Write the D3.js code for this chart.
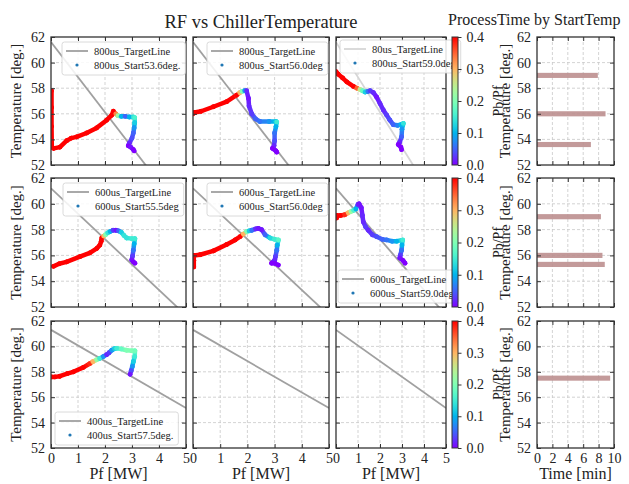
<!DOCTYPE html>
<html>
<head>
<meta charset="utf-8">
<script src="https://cdn.jsdelivr.net/npm/d3@7"></script>
<style>
  body { margin: 0; background: #fff; }
  text { font-family: "Liberation Serif", "DejaVu Serif", serif; fill: #222; }
</style>
</head>
<body>
<svg id="chart" width="629" height="484"></svg>
<script>
// ---- data ----
var pfTicks = [0, 1, 2, 3, 4, 5];
var tempTicks = [52, 54, 56, 58, 60, 62];
var timeTicks = [0, 2, 4, 6, 8, 10];
var ratioTicks = [0, 0.1, 0.2, 0.3, 0.4];

// target lines [Pf, Temp] end points
var target800 = [[0, 61.6], [5, 47.9]];
var target600 = [[0, 61.2], [5, 51.35]];
var target400 = [[0, 61.3], [5, 55.15]];

// trajectories [Pf, Temp, Pb/Pf]
var run800_536 = [[0.02,57.8,0.4],[0.02,56.5,0.4],[0.02,55.0,0.4],[0.03,53.4,0.4],[0.1,53.3,0.4],[0.33,53.4,0.4],[0.58,53.9,0.4],[0.75,54.1,0.4],[0.95,54.2,0.4],[1.32,54.5,0.4],[1.69,54.9,0.4],[2.06,55.5,0.4],[2.25,55.9,0.4],[2.31,56.2,0.4],[2.4,56.0,0.33],[2.48,55.85,0.22],[2.6,55.8,0.1],[2.75,55.8,0.05],[2.9,55.75,0.1],[3.05,55.75,0.14],[3.1,55.7,0.16],[3.1,55.3,0.12],[3.08,54.9,0.08],[3.05,54.5,0.05],[3.0,54.1,0.04],[2.9,53.7,0.02],[2.86,53.5,0.0],[2.95,53.4,0.01],[3.05,53.2,0.0],[3.08,53.1,0.0]];
var run800_560 = [[0.0,56.0,0.4],[0.05,56.1,0.4],[0.3,56.2,0.4],[0.75,56.55,0.4],[1.24,56.95,0.4],[1.6,57.45,0.4],[1.72,57.65,0.3],[1.8,57.75,0.2],[1.9,57.8,0.08],[1.97,57.8,0.02],[2.04,57.2,0.01],[2.06,56.6,0.02],[2.16,56.0,0.03],[2.3,55.6,0.05],[2.46,55.4,0.06],[2.8,55.4,0.08],[3.05,55.4,0.12],[3.08,55.35,0.15],[3.05,55.0,0.1],[3.0,54.5,0.06],[3.0,53.9,0.04],[2.98,53.5,0.02],[2.92,53.3,0.0],[3.05,53.1,0.0],[3.08,53.0,0.0]];
var run800_590 = [[0.0,59.3,0.4],[0.1,59.1,0.4],[0.3,58.8,0.4],[0.49,58.5,0.4],[0.79,58.15,0.4],[0.95,58.0,0.35],[1.09,57.9,0.25],[1.2,57.8,0.18],[1.32,57.7,0.12],[1.45,57.75,0.06],[1.55,57.8,0.03],[1.7,57.65,0.02],[1.85,57.3,0.01],[2.0,56.8,0.02],[2.15,56.3,0.02],[2.3,55.9,0.03],[2.45,55.5,0.04],[2.6,55.15,0.05],[2.8,55.1,0.07],[2.95,55.15,0.1],[3.06,55.25,0.14],[3.0,54.8,0.08],[2.98,54.2,0.05],[2.9,53.8,0.02],[2.83,53.6,0.0],[2.95,53.4,0.0],[2.98,53.2,0.0]];
var run600_555 = [[0.09,55.15,0.4],[0.3,55.35,0.4],[0.58,55.5,0.4],[1.07,55.9,0.4],[1.44,56.2,0.4],[1.7,56.55,0.4],[1.81,56.8,0.4],[1.86,57.1,0.4],[1.88,57.35,0.4],[1.95,57.5,0.3],[2.02,57.6,0.2],[2.1,57.75,0.14],[2.19,57.85,0.1],[2.3,57.95,0.03],[2.4,57.95,0.01],[2.5,57.9,0.05],[2.6,57.8,0.12],[2.7,57.55,0.14],[2.8,57.35,0.14],[3.0,57.3,0.15],[3.11,57.3,0.15],[3.08,56.9,0.1],[3.05,56.4,0.06],[3.02,55.95,0.03],[2.99,55.65,0.01],[3.05,55.5,0.0],[3.11,55.4,0.0]];
var run600_560 = [[0.03,55.1,0.4],[0.03,55.6,0.4],[0.03,56.0,0.4],[0.26,56.05,0.4],[0.75,56.35,0.4],[1.24,56.85,0.4],[1.55,57.2,0.4],[1.73,57.45,0.4],[1.85,57.65,0.3],[1.97,57.85,0.2],[2.06,57.9,0.12],[2.16,57.95,0.06],[2.3,58.05,0.02],[2.4,58.1,0.01],[2.52,58.0,0.01],[2.65,57.6,0.05],[2.83,57.35,0.13],[3.0,57.25,0.15],[3.14,57.2,0.17],[3.1,56.8,0.1],[3.08,56.4,0.06],[3.03,55.9,0.03],[3.01,55.65,0.02],[2.89,55.4,0.0],[3.0,55.4,0.0],[3.14,55.25,0.0]];
var run600_590 = [[0.03,58.9,0.4],[0.03,59.1,0.4],[0.2,59.1,0.4],[0.4,59.15,0.38],[0.55,59.3,0.3],[0.68,59.4,0.22],[0.8,59.5,0.16],[0.9,59.6,0.1],[1.0,59.95,0.02],[1.05,60.0,0.01],[1.15,59.7,0.01],[1.2,59.1,0.02],[1.24,58.6,0.02],[1.35,58.2,0.03],[1.47,57.95,0.02],[1.65,57.6,0.03],[1.85,57.45,0.04],[2.1,57.25,0.05],[2.3,57.2,0.06],[2.55,57.1,0.08],[2.76,57.1,0.1],[3.03,57.2,0.15],[3.0,56.8,0.1],[2.98,56.4,0.06],[2.92,56.0,0.03],[2.9,55.8,0.01],[3.05,55.6,0.0],[3.14,55.4,0.0]];
var run400_575 = [[0.02,57.6,0.4],[0.15,57.6,0.4],[0.33,57.65,0.4],[0.6,57.85,0.4],[0.83,58.0,0.4],[1.2,58.35,0.4],[1.44,58.65,0.38],[1.55,58.8,0.3],[1.69,58.95,0.22],[1.8,59.05,0.15],[1.94,59.2,0.08],[2.06,59.35,0.02],[2.15,59.5,0.03],[2.25,59.7,0.08],[2.35,59.82,0.12],[2.43,59.85,0.15],[2.6,59.8,0.18],[2.8,59.7,0.2],[3.0,59.65,0.2],[3.11,59.65,0.19],[3.1,59.2,0.15],[3.05,58.8,0.12],[3.01,58.4,0.08],[2.97,58.1,0.04],[2.93,57.8,0.01]];

var legend800 = [['800us_TargetLine', '800us_Start53.6deg.'], ['800us_TargetLine', '800us_Start56.0deg'], ['80us_TargetLine', '800us_Start59.0deg']];
var legend600 = [['600us_TargetLine', '600us_Start55.5deg'], ['600us_TargetLine', '600us_Start56.0deg'], ['600us_TargetLine', '600us_Start59.0deg']];
var legend400 = [['400us_TargetLine', '400us_Start57.5deg.'], null, null];

// process time bars
var startTemps800 = [59.0, 56.0, 53.6], procTime800 = [7.9, 8.9, 7.0];
var startTemps600 = [59.0, 56.0, 55.3], procTime600 = [8.3, 8.5, 8.8];
var startTemps400 = [57.5], procTime400 = [9.5];

// ---- layout ----
var cols = [[51, 186], [193, 329], [336, 446]];
var rowsY = [[37, 165], [178, 307], [321, 448]];
var barCol = [537, 614];
var cbarX = [452, 458];
var legendPos = [[[11, 5], [14, 5], [4, 3]], [[12, 5], [14, 5], [2, 92]], [[4, 91], null, null]];

var rows = [
  { target: target800, runs: [run800_536, run800_560, run800_590], legend: legend800, temps: startTemps800, times: procTime800 },
  { target: target600, runs: [run600_555, run600_560, run600_590], legend: legend600, temps: startTemps600, times: procTime600 },
  { target: target400, runs: [run400_575, null, null], legend: legend400, temps: startTemps400, times: procTime400 }
];

var svg = d3.select('#chart');
var defs = svg.append('defs');

// matplotlib 'rainbow'
function rainbow(t) {
  t = Math.max(0, Math.min(1, t));
  var r = Math.min(1, Math.abs(2 * t - 0.5)), g = Math.sin(Math.PI * t), b = Math.cos(Math.PI * t / 2);
  return d3.rgb(r * 255, g * 255, b * 255).toString();
}
var ratioColor = function (v) { return rainbow(v / 0.4); };

var grad = defs.append('linearGradient').attr('id', 'cbar')
  .attr('x1', 0).attr('y1', 1).attr('x2', 0).attr('y2', 0);
d3.range(0, 1.0001, 0.05).forEach(function (t) {
  grad.append('stop').attr('offset', t).attr('stop-color', rainbow(t));
});

function frameAxes(g, x, y, showX, showY, fmtX) {
  var tk = 4;
  var bottom = g.append('g').attr('transform', 'translate(0,' + y.range()[0] + ')')
    .call(d3.axisBottom(x).tickValues(x === null ? [] : x.__ticks).tickSizeInner(-tk).tickSizeOuter(0).tickPadding(5)
      .tickFormat(showX ? fmtX : ''));
  g.append('g').attr('transform', 'translate(0,' + y.range()[1] + ')')
    .call(d3.axisTop(x).tickValues(x.__ticks).tickSizeInner(-tk).tickSizeOuter(0).tickFormat(''));
  var left = g.append('g').attr('transform', 'translate(' + x.range()[0] + ',0)')
    .call(d3.axisLeft(y).tickValues(tempTicks).tickSizeInner(-tk).tickSizeOuter(0).tickPadding(6)
      .tickFormat(showY ? d3.format('d') : ''));
  g.append('g').attr('transform', 'translate(' + x.range()[1] + ',0)')
    .call(d3.axisRight(y).tickValues(tempTicks).tickSizeInner(-tk).tickSizeOuter(0).tickFormat(''));
  g.selectAll('.domain').remove();
  g.selectAll('.tick line').attr('stroke', '#333');
  g.selectAll('.tick text').style('font-size', '14px').attr('fill', '#222');
  g.append('rect').attr('x', x.range()[0]).attr('y', y.range()[1])
    .attr('width', x.range()[1] - x.range()[0]).attr('height', y.range()[0] - y.range()[1])
    .attr('fill', 'none').attr('stroke', '#333').attr('stroke-width', 1.3);
}

function grid(g, x, y, xs) {
  g.selectAll(null).data(xs.slice(1, -1)).enter().append('line')
    .attr('x1', function (d) { return x(d); }).attr('x2', function (d) { return x(d); })
    .attr('y1', y.range()[0]).attr('y2', y.range()[1])
    .attr('stroke', '#c8c8c8').attr('stroke-dasharray', '3,2').attr('stroke-width', 0.8);
  g.selectAll(null).data(tempTicks.slice(1, -1)).enter().append('line')
    .attr('y1', function (d) { return y(d); }).attr('y2', function (d) { return y(d); })
    .attr('x1', x.range()[0]).attr('x2', x.range()[1])
    .attr('stroke', '#c8c8c8').attr('stroke-dasharray', '3,2').attr('stroke-width', 0.8);
}

function legend(g, px, py, labels, lineColor) {
  var lg = g.append('g').attr('transform', 'translate(' + px + ',' + py + ')');
  var box = lg.append('rect').attr('rx', 2.5).attr('ry', 2.5)
    .attr('fill', '#fff').attr('fill-opacity', 0.85).attr('stroke', '#d0d0d0').attr('stroke-width', 0.8);
  lg.append('line').attr('x1', 4).attr('x2', 26).attr('y1', 9).attr('y2', 9)
    .attr('stroke', lineColor).attr('stroke-width', 1.8);
  lg.append('circle').attr('cx', 15).attr('cy', 23).attr('r', 1.6).attr('fill', '#1f77b4');
  var w = 0;
  labels.forEach(function (s, i) {
    var t = lg.append('text').attr('x', 32).attr('y', 9 + i * 14).attr('dy', '0.35em')
      .style('font-size', '10.5px').text(s);
    w = Math.max(w, t.node().getComputedTextLength());
  });
  box.attr('width', 32 + w + 5).attr('height', 33);
}

rows.forEach(function (row, ri) {
  var y = d3.scaleLinear().domain([52, 62]).range([rowsY[ri][1], rowsY[ri][0]]);
  var isLast = ri === rows.length - 1;

  cols.forEach(function (cx, ci) {
    var x = d3.scaleLinear().domain([0, 5]).range(cx);
    x.__ticks = pfTicks;
    var g = svg.append('g');
    var clipId = 'clip' + ri + ci;
    defs.append('clipPath').attr('id', clipId).append('rect')
      .attr('x', cx[0]).attr('y', rowsY[ri][0]).attr('width', cx[1] - cx[0]).attr('height', rowsY[ri][1] - rowsY[ri][0]);
    grid(g, x, y, pfTicks);
    var inner = g.append('g').attr('clip-path', 'url(#' + clipId + ')');
    var lineColor = (ri === 0 && ci === 2) ? '#d6d6d6' : '#a0a0a0';
    inner.append('line')
      .attr('x1', x(row.target[0][0])).attr('y1', y(row.target[0][1]))
      .attr('x2', x(row.target[1][0])).attr('y2', y(row.target[1][1]))
      .attr('stroke', lineColor).attr('stroke-width', 1.8);
    var run = row.runs[ci];
    if (run) {
      var segs = d3.pairs(run);
      inner.selectAll(null).data(segs).enter().append('line')
        .attr('x1', function (d) { return x(d[0][0]); }).attr('y1', function (d) { return y(d[0][1]); })
        .attr('x2', function (d) { return x(d[1][0]); }).attr('y2', function (d) { return y(d[1][1]); })
        .attr('stroke', function (d) { return ratioColor((d[0][2] + d[1][2]) / 2); })
        .attr('stroke-width', 4.5).attr('stroke-linecap', 'round');
      inner.selectAll(null).data(run).enter().append('circle')
        .attr('cx', function (d) { return x(d[0]); }).attr('cy', function (d) { return y(d[1]); })
        .attr('r', 2.4).attr('fill', function (d) { return ratioColor(d[2]); });
    }
    frameAxes(g, x, y, isLast, ci === 0, d3.format('d'));
    if (row.legend[ci]) {
      var lp = legendPos[ri][ci];
      legend(g, cx[0] + lp[0], rowsY[ri][0] + lp[1], row.legend[ci], lineColor);
    }
    if (isLast) {
      svg.append('text').attr('x', (cx[0] + cx[1]) / 2).attr('y', 479).attr('text-anchor', 'middle')
        .style('font-size', '16px').text('Pf [MW]');
    }
  });

  // y label
  svg.append('text').attr('transform', 'translate(21,' + (rowsY[ri][0] + rowsY[ri][1]) / 2 + ') rotate(-90)')
    .attr('text-anchor', 'middle').style('font-size', '15px').text('Temperature [deg.]');

  // colorbar
  var cy = d3.scaleLinear().domain([0, 0.4]).range([rowsY[ri][1], rowsY[ri][0]]);
  var cb = svg.append('g');
  cb.append('rect').attr('x', cbarX[0]).attr('y', rowsY[ri][0]).attr('width', cbarX[1] - cbarX[0])
    .attr('height', rowsY[ri][1] - rowsY[ri][0]).attr('fill', 'url(#cbar)').attr('stroke', '#333').attr('stroke-width', 1);
  cb.append('g').attr('transform', 'translate(' + cbarX[1] + ',0)')
    .call(d3.axisRight(cy).tickValues(ratioTicks).tickSize(3.5).tickPadding(5).tickFormat(d3.format('.1f')))
    .call(function (a) { a.select('.domain').remove(); a.selectAll('line').attr('stroke', '#333'); a.selectAll('text').style('font-size', '14px').attr('fill', '#222'); });
  svg.append('text').attr('transform', 'translate(503,' + (rowsY[ri][0] + rowsY[ri][1]) / 2 + ') rotate(-90)')
    .attr('text-anchor', 'middle').style('font-size', '14px').text('Pb/Pf');

  // process time panel
  var bx = d3.scaleLinear().domain([0, 10]).range(barCol);
  bx.__ticks = timeTicks;
  var bg = svg.append('g');
  grid(bg, bx, y, timeTicks);
  bg.selectAll(null).data(row.temps).enter().append('rect')
    .attr('x', bx(0)).attr('y', function (d) { return y(d + 0.2); })
    .attr('width', function (d, i) { return bx(row.times[i]) - bx(0); })
    .attr('height', function (d) { return y(d - 0.2) - y(d + 0.2); })
    .attr('fill', '#bc8f8f').attr('fill-opacity', 0.9);
  frameAxes(bg, bx, y, isLast, true, d3.format('d'));
  svg.append('text').attr('transform', 'translate(510,' + (rowsY[ri][0] + rowsY[ri][1]) / 2 + ') rotate(-90)')
    .attr('text-anchor', 'middle').style('font-size', '15px').text('Temperature [deg.]');
  if (isLast) {
    svg.append('text').attr('x', (barCol[0] + barCol[1]) / 2).attr('y', 479).attr('text-anchor', 'middle')
      .style('font-size', '16px').text('Time [min]');
  }
});

svg.append('text').attr('x', 261).attr('y', 28).attr('text-anchor', 'middle')
  .style('font-size', '18.5px').text('RF vs ChillerTemperature');
svg.append('text').attr('x', 448).attr('y', 25)
  .style('font-size', '16px').text('ProcessTime by StartTemp');
</script>
</body>
</html>
